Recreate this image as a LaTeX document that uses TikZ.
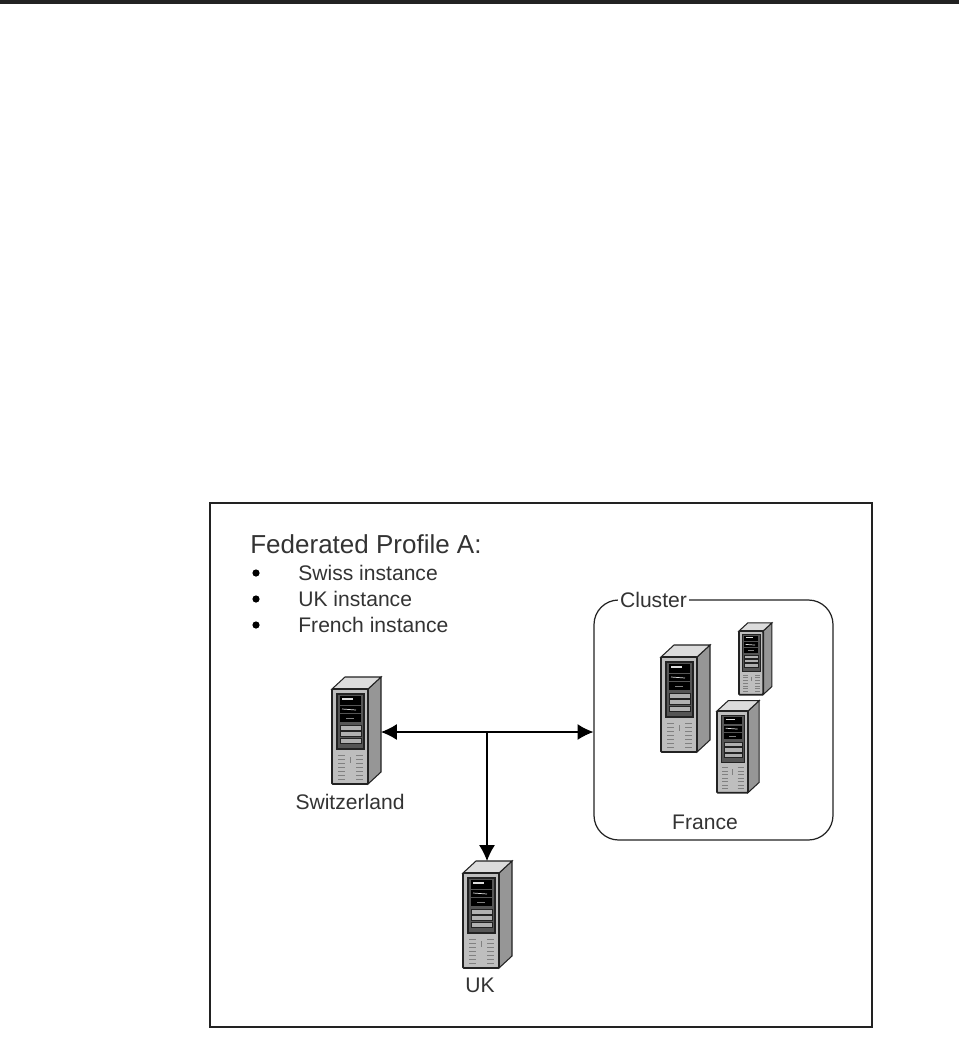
\documentclass[tikz,border=0pt]{standalone}
\usepackage{fontspec}
\setmainfont{Liberation Sans}
\usetikzlibrary{arrows.meta}
\definecolor{inkdark}{HTML}{222222}
\definecolor{inktext}{HTML}{333333}
\definecolor{srvfront}{HTML}{BEBEBE}
\definecolor{srvside}{HTML}{969696}
\definecolor{srvtop}{HTML}{DCDCDC}
\definecolor{srvpanel}{HTML}{555555}
\definecolor{srvslot}{HTML}{B0B0B0}
\tikzset{
  label text/.style={inner sep=0pt, text=inktext, font=\fontsize{12pt}{14pt}\selectfont},
  link/.style={line width=.6pt, color=black, -{Latex[length=9pt,width=9pt]}},
  server/.pic={
    % side and top first, the front covers their edges
    \filldraw[srvside, draw=inkdark, line width=.6pt] (36,0) -- (49,-12) -- (49,83) -- (36,95) -- cycle;
    \filldraw[srvtop, draw=inkdark, line width=.6pt] (0,0) -- (13,-12) -- (49,-12) -- (36,0) -- cycle;
    \filldraw[srvfront, draw=inkdark, line width=1pt, rounded corners=.5pt] (0,0) rectangle (36,95);
    \filldraw[color=srvpanel, draw=inkdark, line width=.8pt] (5,5) rectangle (32,60);
    % drive bays
    \foreach \ya/\yb in {7/15.5, 17/24, 25/33}
      \fill[color=black] (8,\ya) rectangle (29,\yb);
    \foreach \ya/\yb in {36/41, 42.5/47.5, 49/54}
      \filldraw[color=srvslot, draw=inkdark, line width=.4pt] (8,\ya) rectangle (29,\yb);
    \draw[color=srvtop, line width=.8pt] (10,10) -- (21,10);
    \draw[color=srvtop, line width=.4pt] (10,20) -- (24,21);
    \draw[color=gray, line width=.4pt] (14,29) -- (22,29);
    % vents
    \foreach \yv in {66,70,...,90} {
      \draw[color=gray, line width=.5pt] (6,\yv) -- (13,\yv);
      \draw[color=gray, line width=.5pt] (24,\yv) -- (31,\yv);
    }
    \draw[color=gray, line width=.5pt] (18,68) -- (18,74);
    \coordinate (-east) at (49,40);
    \coordinate (-north) at (24,-12);
  }
}
\begin{document}
\begin{tikzpicture}[x=0.02cm, y=-0.02cm]
    \useasboundingbox (0,0) rectangle (959,1038);
    \fill[color=inkdark] (0,0) rectangle (959,4);
    \draw[color=inkdark, line width=.7pt] (210,503) rectangle (872,1027);

    \node[label text, anchor=west, font=\fontsize{14.8pt}{18pt}\selectfont] (title) at (250,544) {Federated Profile A:};
    \foreach \ypos/\name/\txt in {573/swiss/Swiss instance, 599/uk/UK instance, 625/french/French instance} {
      \fill[color=black] (256,\ypos) circle (3.6);
      \node[label text, anchor=west] (item\name) at (298,\ypos) {\txt};
    }

    \node[draw=inkdark, line width=.7pt, rounded corners=14pt, minimum width=239*0.02cm, minimum height=240*0.02cm, inner sep=0pt] (cluster) at (713.5,720) {};
    \node[label text, fill=white, inner xsep=1pt, anchor=west] (clusterlabel) at (618,600) {Cluster};
    \node[label text] (francelabel) at (705,822) {France};

    \pic (sw) at (332,689) {server};
    \pic (uk) at (463,873) {server};
    \pic (fra) at (661,657) {server};
    \pic[scale=.67] (frc) at (739,631) {server};
    \pic[scale=.86] (frb) at (717,711) {server};

    \node[label text] (swlabel) at (350,802) {Switzerland};
    \node[label text] (uklabel) at (480,985) {UK};

    \coordinate (junction) at (487,732);
    \draw[link] (junction) -- (junction -| sw-east);
    \draw[link] (junction) -- (junction -| cluster.west);
    \draw[link] (junction) -- (uk-north -| junction);
\end{tikzpicture}
\end{document}
